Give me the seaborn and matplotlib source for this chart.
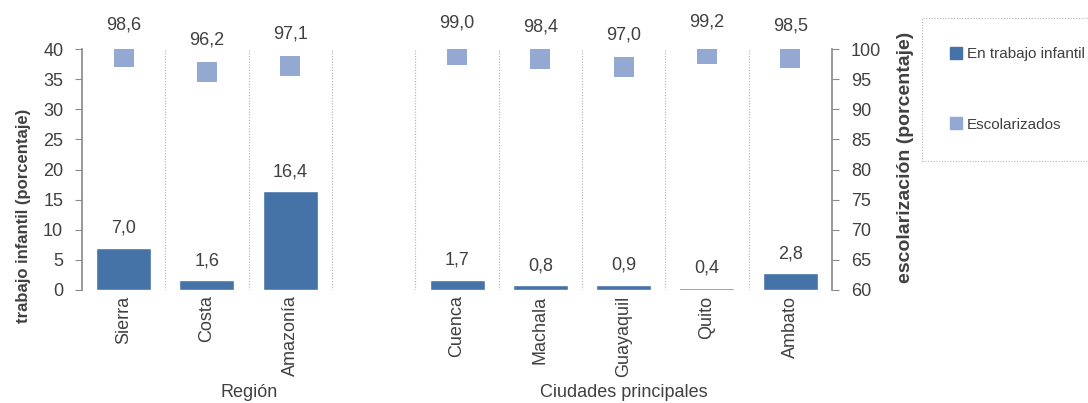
import matplotlib
matplotlib.use("Agg")
import matplotlib.pyplot as plt
import seaborn as sns
import pandas as pd
import numpy as np
from matplotlib.lines import Line2D

# Categories: three regions, an empty spacer slot, then five main cities
categories = ["Sierra", "Costa", "Amazonía", "", "Cuenca", "Machala", "Guayaquil", "Quito", "Ambato"]
trabajo_infantil = [7.0, 1.6, 16.4, np.nan, 1.7, 0.8, 0.9, 0.4, 2.8]
escolarizados = [98.6, 96.2, 97.1, np.nan, 99.0, 98.4, 97.0, 99.2, 98.5]
groups = [("Región", 1.5), ("Ciudades principales", 6.0)]

left_ticks = list(range(0, 41, 5))
right_ticks = list(range(60, 101, 5))

bar_color = "#4572A7"
marker_color = "#93A9D1"
text_color = "#404040"
axis_color = "#8c8c8c"

sns.set_theme(style="white")
plt.rcParams["font.family"] = ["Liberation Sans", "DejaVu Sans"]
plt.rcParams["text.color"] = text_color
plt.rcParams["axes.labelcolor"] = text_color
plt.rcParams["xtick.color"] = text_color
plt.rcParams["ytick.color"] = text_color

df = pd.DataFrame({"cat": categories, "trabajo": trabajo_infantil, "escol": escolarizados})

W, H = 1088, 403
fig = plt.figure(figsize=(W / 100, H / 100), dpi=100)
ax = fig.add_axes([82 / W, 1 - 290 / H, 750 / W, 241 / H])

sns.barplot(data=df, x="cat", y="trabajo", order=categories, color=bar_color,
            saturation=1, width=0.66, ax=ax, errorbar=None)

ax.set_ylim(0, 40)
ax.set_yticks(left_ticks)
ax.set_xlim(-0.5, len(categories) - 0.5)

for i, v in enumerate(trabajo_infantil):
    if not np.isnan(v):
        ax.annotate(f"{v:.1f}".replace(".", ","), (i, v), xytext=(0, 8),
                    textcoords="offset points", ha="center", va="bottom",
                    fontsize=13, color=text_color)

ax2 = ax.twinx()
sns.stripplot(data=df, x="cat", y="escol", order=categories, color=marker_color,
              marker="s", size=15, jitter=False, linewidth=0, ax=ax2)
ax2.set_ylim(60, 100)
ax2.set_yticks(right_ticks)
ax2.set_xlim(-0.5, len(categories) - 0.5)

for i, v in enumerate(escolarizados):
    if not np.isnan(v):
        ax2.annotate(f"{v:.1f}".replace(".", ","), (i, v), xytext=(0, 17),
                     textcoords="offset points", ha="center", va="bottom",
                     fontsize=13, color=text_color)

# dotted separators between category slots
for b in np.arange(0.5, len(categories) - 1, 1.0):
    ax.axvline(b, color="#b0b0b0", linestyle=(0, (1, 1.5)), linewidth=0.8, zorder=0)

for a in (ax, ax2):
    for s in ("top", "bottom"):
        a.spines[s].set_visible(False)
ax.spines["right"].set_visible(False)
ax2.spines["left"].set_visible(False)
ax.spines["left"].set_color(axis_color)
ax2.spines["right"].set_color(axis_color)

ax.tick_params(axis="y", length=5, width=0.8, color=axis_color, labelsize=13, pad=8.5, left=True)
ax2.tick_params(axis="y", length=5, width=0.8, color=axis_color, labelsize=13, pad=8.5, right=True)
ax.tick_params(axis="x", length=0, labelsize=13, pad=4, rotation=90)
ax2.tick_params(axis="x", length=0, labelbottom=False)
ax.set_xlabel("")
ax2.set_xlabel("")
ax.set_ylabel("")
ax2.set_ylabel("")

# axis titles
fig.text(24 / W, 1 - 216 / H, "trabajo infantil (porcentaje)", rotation=90,
         ha="center", va="center", fontsize=12, fontweight="bold", color=text_color)
fig.text(905 / W, 1 - 157 / H, "escolarización (porcentaje)", rotation=90,
         ha="center", va="center", fontsize=14, fontweight="bold", color=text_color)

for name, xc in groups:
    ax.annotate(name, (xc, 0.027), xycoords=("data", "figure fraction"),
                ha="center", va="center", fontsize=13, color=text_color, annotation_clip=False)

handles = [Line2D([], [], marker="s", linestyle="none", color=bar_color, markersize=8.5),
           Line2D([], [], marker="s", linestyle="none", color=marker_color, markersize=8.5)]
leg = fig.legend(handles, ["En trabajo infantil", "Escolarizados"],
                 loc="upper left", bbox_to_anchor=(922 / W, 1 - 18 / H), borderaxespad=0,
                 fontsize=11, labelspacing=3.7, handlelength=0.7, handletextpad=0.35,
                 borderpad=1.9, fancybox=False, frameon=True)
frame = leg.get_frame()
frame.set_edgecolor("#a0a0a0")
frame.set_linestyle((0, (1, 1.5)))
frame.set_linewidth(0.8)
for t in leg.get_texts():
    t.set_color(text_color)

fig.savefig("out.png", dpi=100)
